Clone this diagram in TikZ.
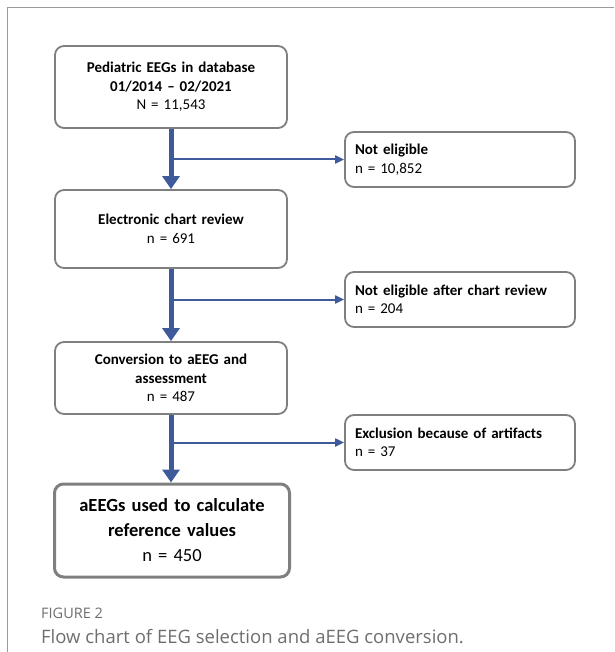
\documentclass[tikz,border=0pt]{standalone}
\usepackage{fontspec}
\setmainfont{Carlito}
\newfontfamily\capfont{Open Sans}
\usetikzlibrary{arrows.meta}
\definecolor{flowblue}{HTML}{3F5A9A}
\definecolor{boxgray}{HTML}{7F7F7F}
\definecolor{framegray}{HTML}{9A9A9A}
\definecolor{capgray}{HTML}{6E6E6E}

\begin{document}
\begin{tikzpicture}[x=1pt,y=-1pt,font=\fontsize{15}{18.5}\selectfont,
  stage/.style={draw=boxgray,line width=1.8pt,rounded corners=9pt,inner xsep=10pt,
    minimum width=232pt,text width=212pt,align=center},
  excl/.style={draw=boxgray,line width=1.8pt,rounded corners=9pt,inner xsep=10pt,
    minimum width=230pt,text width=210pt,minimum height=55pt,align=left},
  mainflow/.style={draw=flowblue,line width=5pt,-{Triangle[length=13pt,width=17pt]}},
  sideflow/.style={draw=flowblue,line width=2pt,-{Triangle[length=9pt,width=8pt]}}]
\useasboundingbox (0,0) rectangle (614,652);
\draw[framegray,line width=1pt] (7,652) -- (7,8) -- (614,8);

\node[stage,minimum height=82pt] (eegs) at (171,87)
  {\textbf{Pediatric EEGs in database}\\ \textbf{01/2014 – 02/2021}\\ N = 11,543};
\node[stage,minimum height=78pt] (chart) at (171,229)
  {\textbf{Electronic chart review}\\ n = 691};
\node[stage,minimum height=72pt] (conv) at (171,378)
  {\textbf{Conversion to aEEG and}\\ \textbf{assessment}\\ n = 487};
\node[stage,line width=3pt,minimum width=235pt,text width=215pt,minimum height=93pt,
  font=\fontsize{18.5}{25}\selectfont] (final) at (172,530.5)
  {\textbf{aEEGs used to calculate}\\ \textbf{reference values}\\ n = 450};

\node[excl] (noteli) at (460,159.5) {\textbf{Not eligible}\\ n = 10,852};
\node[excl] (notchart) at (460,299.5) {\textbf{Not eligible after chart review}\\ n = 204};
\node[excl] (artif) at (460,442.5) {\textbf{Exclusion because of artifacts}\\ n = 37};

% side branches first, main arrows on top
\draw[sideflow] (eegs.south |- noteli.west) -- (noteli.west);
\draw[sideflow] (chart.south |- notchart.west) -- (notchart.west);
\draw[sideflow] (conv.south |- artif.west) -- (artif.west);

\draw[mainflow] (eegs.south) -- (chart.north);
\draw[mainflow] (chart.south) -- (conv.north);
\draw[mainflow] (conv.south) -- (final.north -| conv.south);

\node[anchor=west,inner sep=0pt,text=capgray,font=\capfont\fontsize{14.5}{16}\selectfont] (figlabel)
  at (41,613) {FIGURE 2};
\node[anchor=west,inner sep=0pt,text=capgray,font=\capfont\fontsize{18.5}{22}\selectfont] (figcaption)
  at (41,637) {Flow chart of EEG selection and aEEG conversion.};
\end{tikzpicture}
\end{document}
